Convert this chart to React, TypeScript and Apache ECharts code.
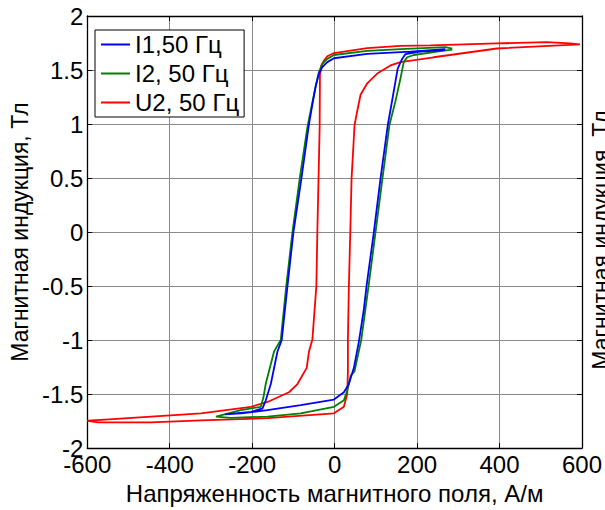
import React, { useEffect, useRef } from "react";
import * as echarts from "echarts";

const xTicks = { min: -600, max: 600, interval: 200 };
const yTicks = { min: -2, max: 2, interval: 0.5 };

const seriesNames = ["I1,50 Гц", "I2, 50 Гц", "U2, 50 Гц"];
const seriesColors = ["#0000ff", "#008000", "#ff0000"];

const i1Loop: [number, number][] = [
  [268.5, 1.693], [183.9, 1.670], [79.1, 1.650], [-1.7, 1.609], [-17.7, 1.573],
  [-29.8, 1.528], [-38, 1.467], [-46, 1.35], [-54, 1.181], [-62.2, 1.0],
  [-80.6, 0.495], [-99.9, -0.002], [-114.4, -0.501], [-128.2, -0.998], [-138.6, -1.106],
  [-154.8, -1.407], [-166.9, -1.558], [-174.9, -1.632], [-203, -1.665], [-266, -1.688],
  [-227, -1.679], [-163, -1.648], [-82.3, -1.603], [-1.7, -1.551], [22.5, -1.483],
  [34.6, -1.407], [46.7, -1.257], [58.8, -1.016], [70.9, -0.715], [77.4, -0.501],
  [95.1, -0.002], [111.3, 0.495], [129, 0.991], [142, 1.271], [153, 1.512],
  [163.8, 1.603], [171.8, 1.648], [208, 1.67], [268.5, 1.684],
];

const i2Loop: [number, number][] = [
  [285.5, 1.697], [268.5, 1.711], [159.7, 1.693], [79.1, 1.678], [-1.7, 1.639],
  [-17.7, 1.603], [-29.8, 1.557], [-38, 1.483], [-46, 1.347], [-58.1, 1.121],
  [-66, 0.971], [-84.7, 0.495], [-102.3, -0.002], [-117.3, -0.501], [-130.6, -0.998],
  [-146.9, -1.106], [-167, -1.404], [-172.5, -1.528], [-179, -1.618], [-227.4, -1.648],
  [-287.9, -1.708], [-251.6, -1.72], [-162.8, -1.708], [-82.3, -1.678], [-1.7, -1.618],
  [22.5, -1.558], [30.7, -1.467], [38.7, -1.332], [48.4, -1.287], [64.6, -0.998],
  [82.3, -0.501], [99.2, -0.002], [116, 0.495], [133, 0.991], [147.6, 1.212],
  [159.7, 1.422], [167.7, 1.573], [175.9, 1.618], [191.9, 1.639], [256.5, 1.675],
  [285.5, 1.688],
];

const u2Loop: [number, number][] = [
  [595.2, 1.738], [571, 1.747], [514.6, 1.759], [393.6, 1.747], [232.3, 1.729],
  [159.7, 1.723], [79.1, 1.702], [-1.7, 1.657], [-17.7, 1.627], [-25.9, 1.587],
  [-32.2, 1.542], [-35.6, 1.452], [-36.3, 0.971], [-41.9, -0.002], [-44.3, -0.501],
  [-54, -0.998], [-62.2, -1.106], [-67.7, -1.257], [-90.2, -1.407], [-110.6, -1.483],
  [-162.8, -1.573], [-203.2, -1.618], [-324.2, -1.678], [-445.2, -1.708], [-566.1, -1.738],
  [-600, -1.747], [-574.1, -1.762], [-445.2, -1.762], [-324.2, -1.743], [-162.8, -1.723],
  [-1.7, -1.678], [22.5, -1.618], [30.7, -1.497], [32.2, -1.287], [32.2, -0.998],
  [34.6, -0.501], [38, -0.002], [41.1, 0.495], [48.4, 0.991], [54.9, 1.121],
  [62.9, 1.271], [79.1, 1.377], [103.3, 1.467], [135.5, 1.542], [159.7, 1.573],
  [240.2, 1.618], [393.6, 1.699], [595.2, 1.738],
];

const loops = [i1Loop, i2Loop, u2Loop];

const xName = "Напряженность магнитного поля, А/м";
const yName = "Магнитная индукция, Тл";

export default function App() {
  const ref = useRef<HTMLDivElement>(null);
  useEffect(() => {
    if (!ref.current) return;
    const chart = echarts.init(ref.current, undefined, { renderer: "svg" });
    const font = "Arial, 'Liberation Sans', sans-serif";
    const base = {
      axisLine: { show: true, onZero: false, lineStyle: { color: "#000", width: 1.3 } },
      axisTick: { show: true, inside: true, length: 5, lineStyle: { color: "#000", width: 1 } },
    };
    chart.setOption({
      animation: false,
      backgroundColor: "#fff",
      grid: { left: 86, top: 16, right: 23, bottom: 51, containLabel: false },
      legend: {
        orient: "vertical",
        left: 95,
        top: 30,
        padding: [1, 5, 1, 6],
        itemGap: 2,
        itemWidth: 29,
        itemHeight: 2,
        icon: "rect",
        backgroundColor: "#fff",
        borderColor: "#000",
        borderWidth: 1,
        borderRadius: 0,
        textStyle: { fontFamily: font, fontSize: 24, lineHeight: 27, color: "#000" },
        data: seriesNames,
      },
      xAxis: [
        {
          type: "value",
          ...xTicks,
          position: "bottom",
          ...base,
          axisLabel: { fontFamily: font, fontSize: 24, color: "#000", margin: 4 },
          splitLine: { show: true, lineStyle: { color: "#8a8a8a", width: 1 } },
          name: xName,
          nameLocation: "middle",
          nameGap: 26,
          nameTextStyle: { fontFamily: font, fontSize: 24, color: "#000" },
        },
        {
          type: "value",
          ...xTicks,
          position: "top",
          ...base,
          axisLabel: { show: false },
          splitLine: { show: false },
        },
      ],
      yAxis: [
        {
          type: "value",
          ...yTicks,
          position: "left",
          ...base,
          axisLabel: { fontFamily: font, fontSize: 24, color: "#000", margin: 4 },
          splitLine: { show: true, lineStyle: { color: "#8a8a8a", width: 1 } },
          name: yName,
          nameLocation: "middle",
          nameGap: 47,
          nameTextStyle: { fontFamily: font, fontSize: 23, color: "#000" },
        },
        {
          type: "value",
          ...yTicks,
          position: "right",
          ...base,
          axisLabel: { show: false },
          splitLine: { show: false },
        },
      ],
      graphic: [
        {
          type: "text",
          x: 601,
          y: 240,
          rotation: Math.PI / 2,
          style: {
            text: yName,
            fontFamily: font,
            fontSize: 23,
            fill: "#000",
            textAlign: "center",
            textVerticalAlign: "middle",
          },
        },
      ],
      series: loops.map((d, i) => ({
        name: seriesNames[i],
        type: "line",
        data: d,
        symbol: "none",
        smooth: false,
        lineStyle: { color: seriesColors[i], width: 1.8 },
        itemStyle: { color: seriesColors[i] },
        z: 3 + (i === 0 ? 2 : i === 1 ? 1 : 0),
      })),
    });
    return () => chart.dispose();
  }, []);
  return (
    <div
      ref={ref}
      style={{ position: "fixed", left: 0, top: 0, width: 605, height: 510, background: "#fff" }}
    />
  );
}
